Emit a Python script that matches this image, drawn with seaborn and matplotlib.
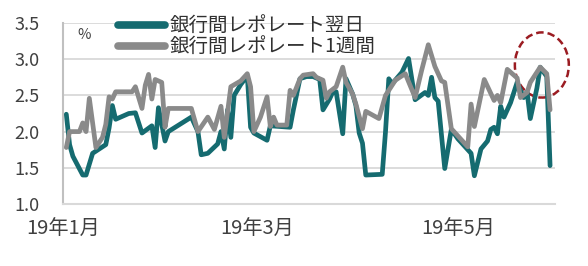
import matplotlib
matplotlib.use("Agg")
import matplotlib.pyplot as plt
import matplotlib.dates as mdates
from matplotlib.patches import Ellipse
import pandas as pd
import seaborn as sns

# ---- data ----
on_dates = ["2019-01-02", "2019-01-03", "2019-01-04", "2019-01-07", "2019-01-08", "2019-01-10",
            "2019-01-11", "2019-01-14", "2019-01-15", "2019-01-16", "2019-01-17", "2019-01-21",
            "2019-01-23", "2019-01-25", "2019-01-28", "2019-01-29", "2019-01-30", "2019-02-01",
            "2019-02-02", "2019-02-09", "2019-02-11", "2019-02-12", "2019-02-14", "2019-02-17",
            "2019-02-18", "2019-02-19", "2019-02-20", "2019-02-21", "2019-02-22", "2019-02-24",
            "2019-02-26", "2019-02-27", "2019-02-28", "2019-03-04", "2019-03-05", "2019-03-11",
            "2019-03-12", "2019-03-14", "2019-03-16", "2019-03-18", "2019-03-20", "2019-03-21",
            "2019-03-23", "2019-03-24", "2019-03-25", "2019-03-27", "2019-03-28", "2019-03-30",
            "2019-03-31", "2019-04-01", "2019-04-02", "2019-04-03", "2019-04-08", "2019-04-09",
            "2019-04-10", "2019-04-11", "2019-04-14", "2019-04-16", "2019-04-18", "2019-04-21",
            "2019-04-22", "2019-04-23", "2019-04-24", "2019-04-25", "2019-04-27", "2019-04-29",
            "2019-05-01", "2019-05-04", "2019-05-05", "2019-05-06", "2019-05-08", "2019-05-10",
            "2019-05-11", "2019-05-12", "2019-05-13", "2019-05-14", "2019-05-15", "2019-05-17",
            "2019-05-19", "2019-05-21", "2019-05-22", "2019-05-23", "2019-05-25", "2019-05-26",
            "2019-05-28", "2019-05-29"]
on_rate = [2.24, 1.82, 1.66, 1.40, 1.40, 1.70,
           1.73, 1.82, 2.05, 2.36, 2.17, 2.25,
           2.26, 1.98, 2.08, 1.78, 2.33, 1.87,
           2.00, 2.20, 2.00, 1.68, 1.70, 1.83,
           2.00, 1.76, 2.30, 1.92, 2.50, 2.65,
           2.77, 2.06, 1.98, 1.88, 2.08, 2.06,
           2.30, 2.73, 2.76, 2.76, 2.72, 2.30,
           2.45, 2.55, 2.55, 1.97, 2.73, 2.52,
           2.36, 1.98, 1.84, 1.40, 1.41, 2.00,
           2.73, 2.66, 2.82, 3.01, 2.44, 2.54,
           2.50, 2.75, 2.47, 2.42, 1.49, 2.03,
           1.90, 1.75, 1.70, 1.39, 1.76, 1.87,
           2.03, 2.06, 1.97, 2.35, 2.20, 2.40,
           2.68, 2.47, 2.55, 2.18, 2.60, 2.89,
           2.76, 1.53]

wk_dates = ["2019-01-02", "2019-01-03", "2019-01-06", "2019-01-07", "2019-01-08", "2019-01-09",
            "2019-01-11", "2019-01-13", "2019-01-14", "2019-01-15", "2019-01-16", "2019-01-17",
            "2019-01-22", "2019-01-23", "2019-01-25", "2019-01-26", "2019-01-27", "2019-01-28",
            "2019-01-29", "2019-01-31", "2019-02-01", "2019-02-02", "2019-02-09", "2019-02-11",
            "2019-02-14", "2019-02-16", "2019-02-18", "2019-02-19", "2019-02-21", "2019-02-24",
            "2019-02-26", "2019-02-27", "2019-02-28", "2019-03-02", "2019-03-04", "2019-03-05",
            "2019-03-06", "2019-03-07", "2019-03-10", "2019-03-11", "2019-03-12", "2019-03-14",
            "2019-03-15", "2019-03-18", "2019-03-19", "2019-03-21", "2019-03-22", "2019-03-23",
            "2019-03-25", "2019-03-27", "2019-03-28", "2019-03-30", "2019-03-31", "2019-04-02",
            "2019-04-03", "2019-04-07", "2019-04-09", "2019-04-12", "2019-04-15", "2019-04-18",
            "2019-04-20", "2019-04-22", "2019-04-24", "2019-04-26", "2019-04-27", "2019-04-29",
            "2019-05-04", "2019-05-05", "2019-05-06", "2019-05-09", "2019-05-12", "2019-05-13",
            "2019-05-14", "2019-05-16", "2019-05-19", "2019-05-20", "2019-05-22", "2019-05-23",
            "2019-05-26", "2019-05-28", "2019-05-29"]
wk_rate = [1.78, 2.00, 2.00, 2.12, 2.00, 2.46,
           1.78, 1.92, 2.10, 2.48, 2.45, 2.55,
           2.55, 2.62, 2.32, 2.64, 2.79, 2.45,
           2.72, 2.68, 2.06, 2.32, 2.32, 2.00,
           2.20, 2.03, 2.35, 1.92, 2.62, 2.70,
           2.80, 2.62, 2.00, 2.20, 2.48, 2.07,
           2.20, 2.09, 2.09, 2.57, 2.50, 2.73,
           2.78, 2.80, 2.75, 2.71, 2.46, 2.55,
           2.62, 2.89, 2.68, 2.52, 2.38, 2.04,
           2.28, 2.18, 2.50, 2.71, 2.80, 2.47,
           2.85, 3.20, 2.90, 2.70, 2.68, 2.04,
           1.79, 2.38, 2.07, 2.72, 2.43, 2.50,
           2.40, 2.86, 2.74, 2.47, 2.54, 2.68,
           2.89, 2.80, 2.30]

series_names = ["銀行間レポレート翌日", "銀行間レポレート1週間"]
series_colors = ["#156b70", "#8a8a8a"]
x_tick_dates = ["2019-01-01", "2019-03-01", "2019-05-01"]
x_tick_labels = ["19年1月", "19年3月", "19年5月"]
y_ticks = [1.0, 1.5, 2.0, 2.5, 3.0, 3.5]

df = pd.concat([
    pd.DataFrame({"date": pd.to_datetime(on_dates), "rate": on_rate, "series": series_names[0]}),
    pd.DataFrame({"date": pd.to_datetime(wk_dates), "rate": wk_rate, "series": series_names[1]}),
], ignore_index=True)

sns.set_theme(style="white")
plt.rcParams["font.family"] = ["Noto Sans CJK JP", "DejaVu Sans"]

fig = plt.figure(figsize=(5.88, 2.66), dpi=100)
ax = fig.add_axes([63 / 588, 1 - 204 / 266, 492 / 588, 181 / 266])

sns.lineplot(data=df, x="date", y="rate", hue="series", hue_order=series_names,
             palette=series_colors, linewidth=3.4, ax=ax, estimator=None, sort=True)

ax.set_xlim(pd.Timestamp("2019-01-01"), pd.Timestamp("2019-05-30 12:00"))
ax.set_ylim(1.0, 3.5)
ax.set_yticks(y_ticks)
ax.set_yticklabels([f"{v:.1f}" for v in y_ticks])
ax.set_xticks(pd.to_datetime(x_tick_dates))
ax.set_xticklabels(x_tick_labels)
ax.set_xlabel("")
ax.set_ylabel("")

ax.grid(axis="y", color="#d9d9d9", linewidth=1.3)
ax.set_axisbelow(True)
for s in ["top", "right"]:
    ax.spines[s].set_visible(False)
ax.spines["left"].set_color("#c0c0c0")
ax.spines["left"].set_linewidth(1.5)
ax.spines["bottom"].set_color("#d9d9d9")
ax.spines["bottom"].set_linewidth(1.5)
ax.tick_params(axis="y", length=0, pad=17, labelsize=13, labelcolor="#404040")
ax.tick_params(axis="x", direction="in", length=4, width=1.2, color="#d0d0d0",
               pad=11, labelsize=14.5, labelcolor="#404040")

ax.text(0.03, 0.97, "%", transform=ax.transAxes, fontsize=10.5, color="#404040",
        ha="left", va="top")

leg = ax.legend(loc="upper left", bbox_to_anchor=((118 - 63) / 492, (204 - 16) / 181),
                frameon=False, fontsize=14, handlelength=2.4, handletextpad=0.25,
                labelspacing=0.0, borderpad=0, borderaxespad=0)
for t in leg.get_texts():
    t.set_color("#303030")
for h in leg.get_lines():
    h.set_linewidth(5.5)
    h.set_solid_capstyle("round")

cx = mdates.date2num(pd.Timestamp("2019-05-26 12:00"))
ell = Ellipse((cx, 2.92), width=16.4, height=0.9, fill=False, edgecolor="#9b1c22",
              linestyle=(0, (3, 1.6)), linewidth=1.8, clip_on=False)
ax.add_patch(ell)

fig.savefig("out.png", dpi=100)
